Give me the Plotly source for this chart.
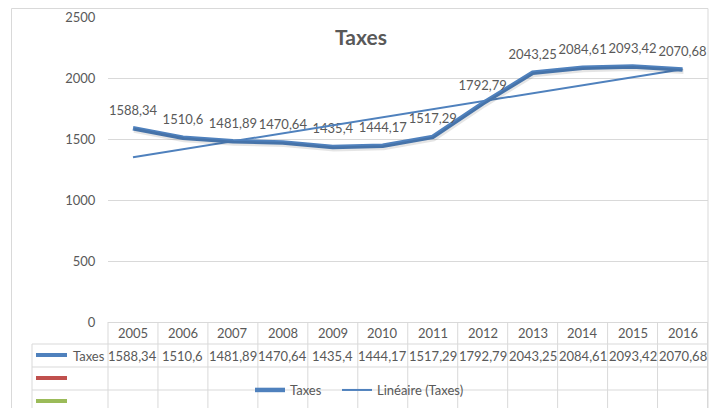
import numpy as np
import plotly.graph_objects as go

# ---- data ----
years = ["2005", "2006", "2007", "2008", "2009", "2010",
         "2011", "2012", "2013", "2014", "2015", "2016"]
taxes = [1588.34, 1510.6, 1481.89, 1470.64, 1435.4, 1444.17,
         1517.29, 1792.79, 2043.25, 2084.61, 2093.42, 2070.68]
y_ticks = [0, 500, 1000, 1500, 2000, 2500]
title_text = "Taxes"
series_name = "Taxes"
trend_name = "Linéaire (Taxes)"
extra_key_colors = ["#C0504D", "#9BBB59"]

# ---- styling ----
W, H = 715, 408
BLUE = "#4F81BD"
TXT = "#595959"
GRID = "#D9D9D9"
FONT = "Lato"


def px(x):
    return x / W


def py(y):
    return (H - y) / H


def fr(v):
    return f"{v:g}".replace(".", ",")


idx = list(range(len(years)))
labels = [fr(v) for v in taxes]
slope, intercept = np.polyfit(idx, taxes, 1)
trend = [intercept + slope * i for i in idx]

x_dom = [px(108), px(707.5)]
y_dom = [py(322), py(17)]
x_rng = [-0.5, len(years) - 0.5]
y_rng = [0, 2500]

# shadow offsets (in pixels) converted to axis units
col_w = (707.5 - 108) / len(years)
unit_px = (322 - 17) / 2500
sx = 1.0 / col_w
sy = 2.0 / unit_px

fig = go.Figure()

fig.add_trace(go.Scatter(
    x=idx, y=taxes, xaxis="x2", yaxis="y2", mode="lines",
    line=dict(color="rgba(0,0,0,0.10)", width=5),
    showlegend=False, hoverinfo="skip"))

fig.add_trace(go.Scatter(
    x=idx, y=taxes, mode="lines", name=series_name,
    line=dict(color=BLUE, width=4.5), legend="legend"))

fig.add_trace(go.Scatter(
    x=idx, y=taxes, mode="markers+text", showlegend=False,
    marker=dict(size=15, opacity=0, color=BLUE),
    text=labels, textposition="top center", hoverinfo="skip",
    textfont=dict(family=FONT, size=13, color=TXT)))

fig.add_trace(go.Scatter(
    x=idx, y=trend, mode="lines", name=trend_name,
    line=dict(color=BLUE, width=2), legend="legend2"))

shapes = []
# chart border
shapes.append(dict(type="rect", xref="paper", yref="paper",
                   x0=px(11.5), x1=px(708), y0=py(8.5), y1=-0.1,
                   line=dict(color=GRID, width=1), fillcolor="rgba(0,0,0,0)"))
# table column separators
for k in range(1, len(years)):
    shapes.append(dict(type="line", xref="x", yref="paper",
                       x0=k - 0.5, x1=k - 0.5, y0=py(322), y1=-0.05,
                       line=dict(color=GRID, width=1)))
for d in (0, 1):
    shapes.append(dict(type="line", xref="x domain", yref="paper",
                       x0=d, x1=d, y0=py(322), y1=-0.05,
                       line=dict(color=GRID, width=1)))
# row header column left edge
shapes.append(dict(type="line", xref="paper", yref="paper",
                   x0=px(32), x1=px(32), y0=py(344), y1=-0.05,
                   line=dict(color=GRID, width=1)))
# row separators
for yy in (344, 367, 390):
    shapes.append(dict(type="line", xref="paper", yref="paper",
                       x0=px(32), x1=x_dom[1], y0=py(yy), y1=py(yy),
                       line=dict(color=GRID, width=1)))
# row legend keys
key_rows = [(355, BLUE)] + list(zip((378, 401), extra_key_colors))
for yy, col in key_rows:
    shapes.append(dict(type="line", xref="paper", yref="paper",
                       x0=px(36), x1=px(67), y0=py(yy), y1=py(yy),
                       line=dict(color=col, width=4)))

annotations = []
for i, yr in enumerate(years):
    annotations.append(dict(x=i, y=py(333), xref="x", yref="paper",
                            text=yr, showarrow=False, yanchor="middle",
                            font=dict(family=FONT, size=13, color=TXT)))
for i, lab in enumerate(labels):
    annotations.append(dict(x=i, y=py(356), xref="x", yref="paper",
                            text=lab, showarrow=False, yanchor="middle",
                            font=dict(family=FONT, size=13, color=TXT)))
annotations.append(dict(x=px(107), y=py(356), xref="paper", yref="paper",
                        text=series_name, showarrow=False, xanchor="right",
                        yanchor="middle",
                        font=dict(family=FONT, size=13, color=TXT)))

legend_common = dict(orientation="h", yanchor="middle", y=py(390),
                     xanchor="left", bgcolor="rgba(0,0,0,0)",
                     font=dict(family=FONT, size=13, color=TXT))

fig.update_layout(
    width=W, height=H, autosize=False,
    margin=dict(l=0, r=0, t=0, b=0, autoexpand=False),
    paper_bgcolor="white", plot_bgcolor="white",
    title=dict(text=f"<b>{title_text}</b>", x=px(361), y=py(38),
               xanchor="center", yanchor="middle", xref="paper", yref="paper",
               font=dict(family=FONT, size=21, color=TXT)),
    xaxis=dict(domain=x_dom, range=x_rng, showticklabels=False,
               showgrid=False, zeroline=False, showline=False, fixedrange=True),
    yaxis=dict(domain=y_dom, range=y_rng, tickvals=y_ticks,
               gridcolor=GRID, gridwidth=1, zeroline=True, zerolinecolor=GRID,
               zerolinewidth=1, showline=False, ticks="outside", ticklen=9,
               tickcolor="rgba(0,0,0,0)",
               tickfont=dict(family=FONT, size=13, color=TXT), fixedrange=True),
    xaxis2=dict(domain=x_dom, range=[x_rng[0] - sx, x_rng[1] - sx],
                overlaying="x", visible=False, fixedrange=True),
    yaxis2=dict(domain=y_dom, range=[y_rng[0] + sy, y_rng[1] + sy],
                overlaying="y", visible=False, fixedrange=True),
    legend=dict(x=px(250), **legend_common),
    legend2=dict(x=px(337), **legend_common),
    shapes=shapes, annotations=annotations,
    showlegend=True,
)

fig.write_html(
    "out.html",
    config={"displayModeBar": False},
    post_script="document.body.style.margin='0';"
                "document.body.style.overflow='hidden';")
